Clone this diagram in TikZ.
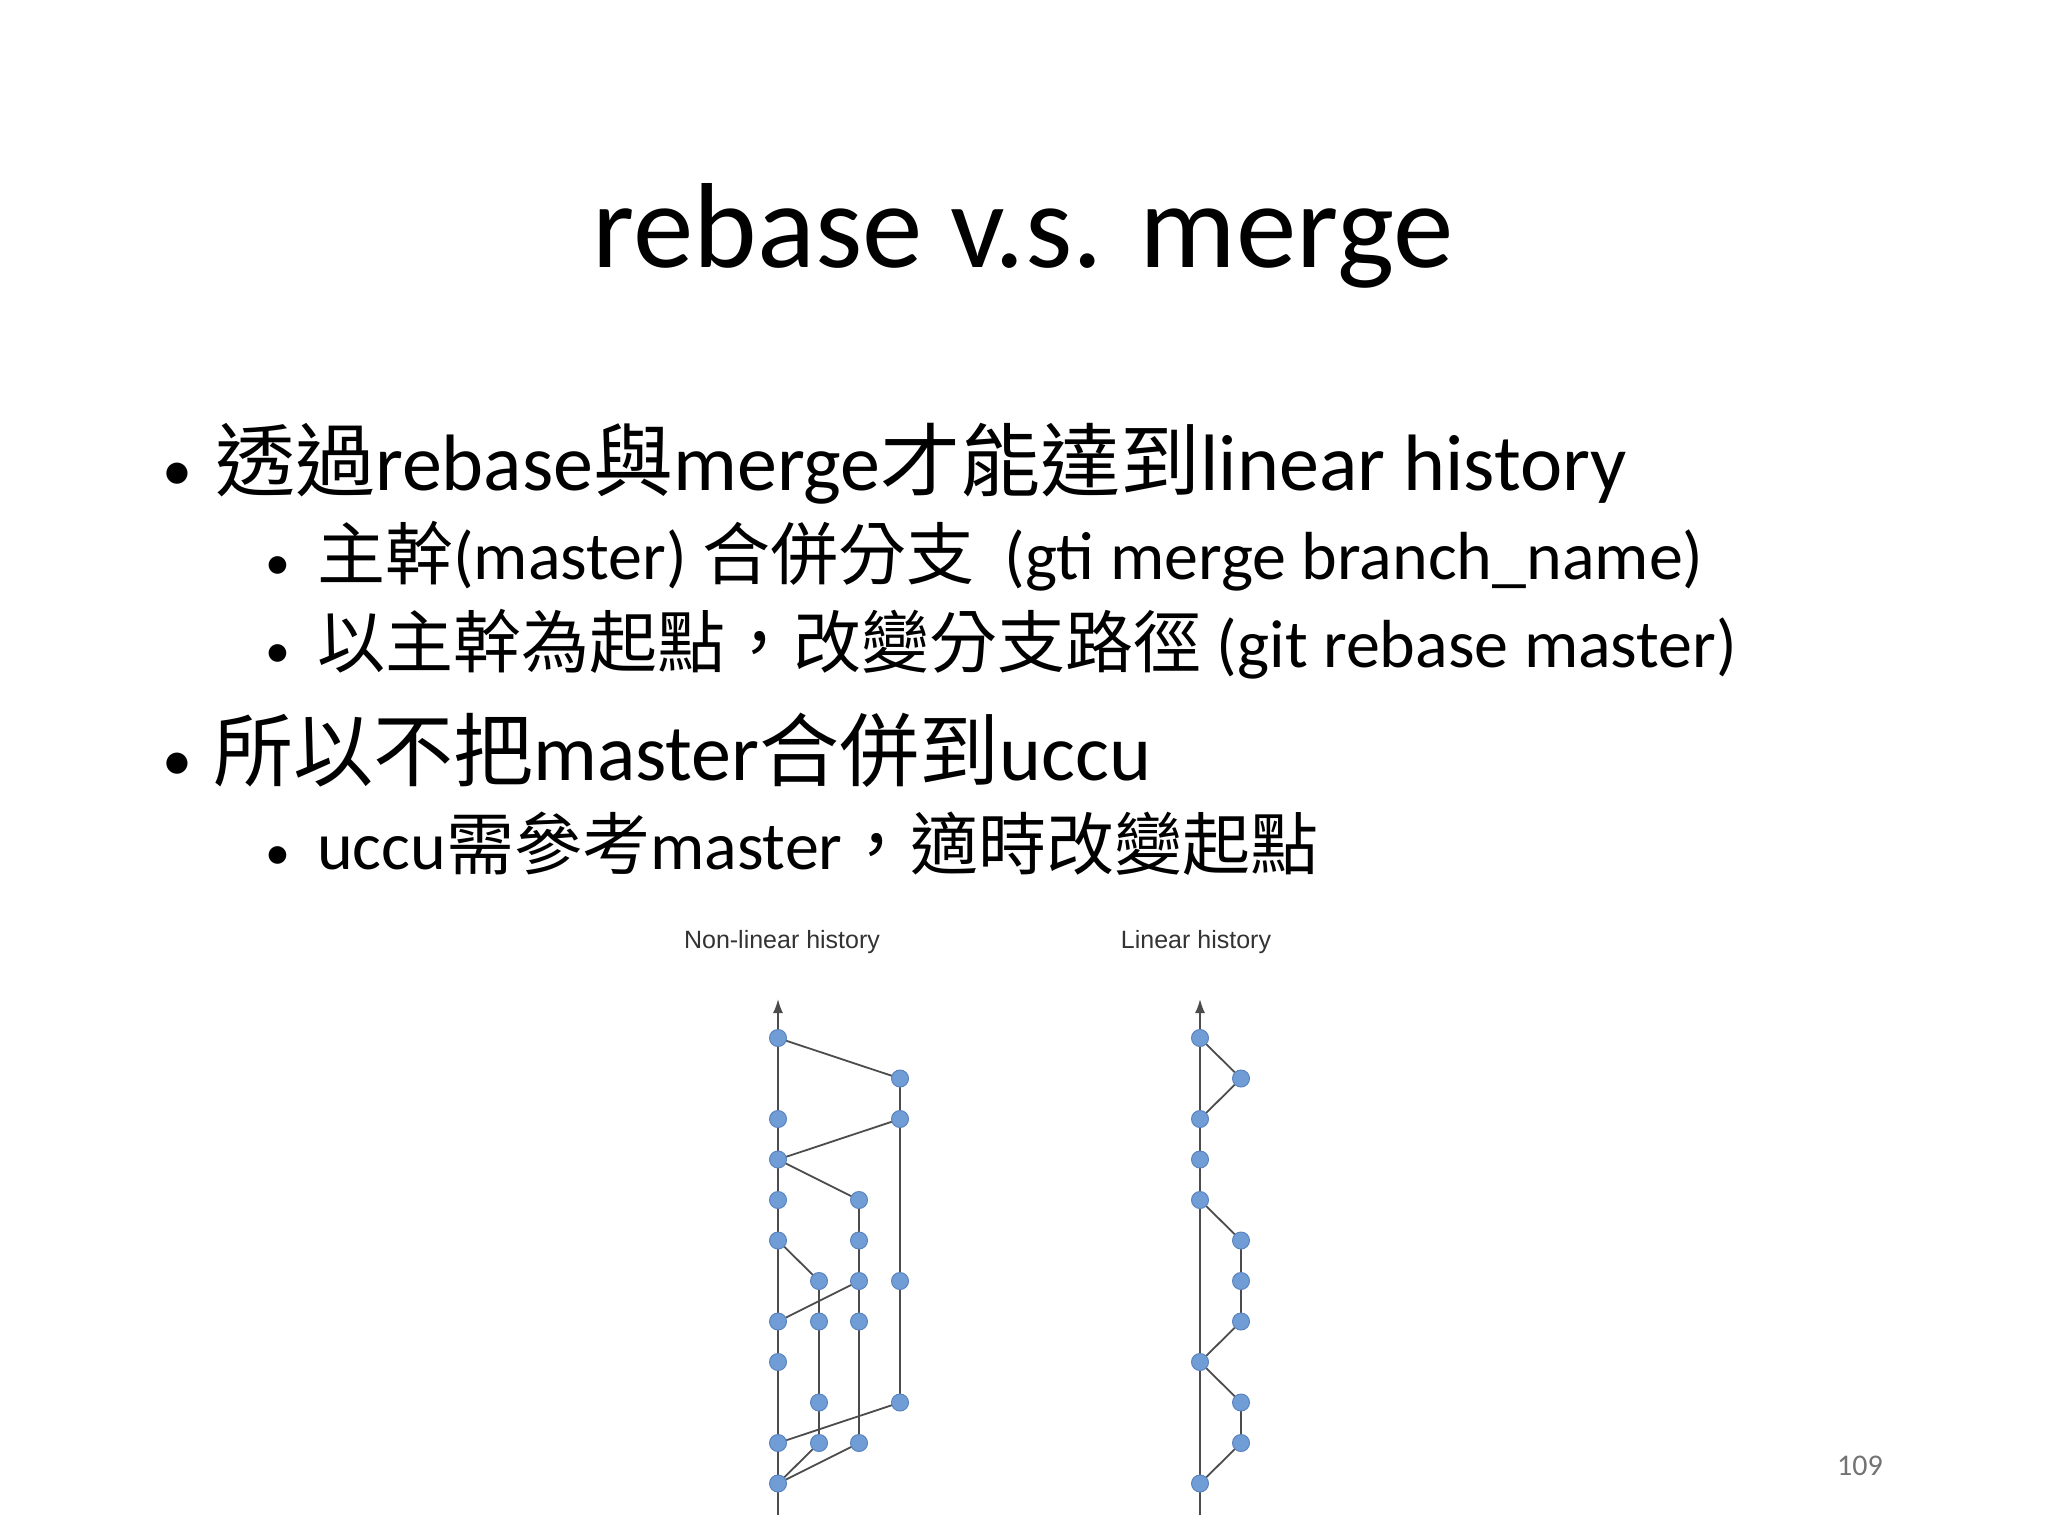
\documentclass[tikz,border=0pt]{standalone}
\usepackage{fontspec}
\usetikzlibrary{arrows.meta}
\setmainfont{Carlito}
\newfontfamily\cjk{Noto Sans CJK TC}
\newfontfamily\arialf{Liberation Sans}
\definecolor{cmblue}{HTML}{719DD6}
\definecolor{cmedge}{HTML}{5A84BE}
\begin{document}
\begin{tikzpicture}[x=1pt,y=-1pt,
  cnode/.style={circle,fill=cmblue,draw=cmedge,line width=1pt,minimum size=17pt,inner sep=0pt},
  ed/.style={draw=black!70,line width=1.8pt},
  lvA/.style={anchor=base west,inner sep=0pt,font=\fontsize{80}{90}\selectfont},
  lvB/.style={anchor=base west,inner sep=0pt,font=\fontsize{68}{76}\selectfont},
  bulA/.style={anchor=base west,inner sep=0pt,font=\fontsize{60}{70}\selectfont},
  bulB/.style={anchor=base west,inner sep=0pt,font=\fontsize{50}{60}\selectfont}]
\useasboundingbox (0,0) rectangle (2048,1536);
\fill[white] (0,0) rectangle (2048,1536);
\node[anchor=base,inner sep=0pt,font=\fontsize{121}{140}\selectfont] (title) at (1023,267) {rebase v.s. merge};
\node[bulA] (u1) at (162,490) {•};
\node[lvA] (b1) at (215,490) {{\cjk 透過}rebase{\cjk 與}merge{\cjk 才能達到}linear history};
\node[bulB] (u2) at (265,579) {•};
\node[lvB] (b2) at (317,579) {{\cjk 主幹}(master) {\cjk 合併分支}~~(gti merge branch\_name)};
\node[bulB] (u3) at (265,667) {•};
\node[lvB] (b3) at (317,667) {{\cjk 以主幹為起點，改變分支路徑} (git rebase master)};
\node[bulA] (u4) at (162,780) {•};
\node[lvA] (b4) at (213,780) {{\cjk 所以不把}master{\cjk 合併到}uccu};
\node[bulB] (u5) at (265,869) {•};
\node[lvB] (b5) at (317,869) {uccu{\cjk 需參考}master{\cjk ，適時改變起點}};
\node[font=\arialf\fontsize{25}{30}\selectfont,text=black!80] (t1) at (782,942) {Non-linear history};
\node[font=\arialf\fontsize{25}{30}\selectfont,text=black!80] (t2) at (1196,942) {Linear history};
\node[font=\fontsize{30}{36}\selectfont,text=black!55] (pg) at (1860,1466) {109};
\def\ya{1038}\def\yb{1078.5}\def\yc{1119}\def\yd{1159.5}\def\ye{1200}\def\yf{1240.5}
\def\yg{1281}\def\yh{1321.5}\def\yi{1362}\def\yj{1402.5}\def\yk{1443}\def\yl{1483.5}
\coordinate (Ltop) at (778,999);
\coordinate (Lbot) at (778,1515);
\coordinate (Rtop) at (1200,999);
\coordinate (Rbot) at (1200,1515);
\draw[ed,-{Latex[length=14pt,width=10pt]}] (Lbot) -- (Ltop);
\draw[ed,-{Latex[length=14pt,width=10pt]}] (Rbot) -- (Rtop);
% left graph
\foreach \n/\y in {0/\ya,2/\yc,3/\yd,4/\ye,5/\yf,7/\yh,8/\yi,10/\yk,11/\yl}
  \coordinate (a\n) at (778,\y);
\foreach \n/\y in {6/\yg,7/\yh,9/\yj,10/\yk}
  \coordinate (b\n) at (819,\y);
\foreach \n/\y in {4/\ye,5/\yf,6/\yg,7/\yh,10/\yk}
  \coordinate (c\n) at (859,\y);
\foreach \n/\y in {1/\yb,2/\yc,6/\yg,9/\yj}
  \coordinate (d\n) at (900,\y);
\draw[ed] (a0) -- (d1) -- (d2) -- (d6) -- (d9) -- (a10);
\draw[ed] (d2) -- (a3) -- (c4) -- (c5) -- (c6) -- (c7) -- (c10) -- (a11);
\draw[ed] (a5) -- (b6) -- (b7) -- (b9) -- (b10) -- (a11);
\draw[ed] (c6) -- (a7);
\foreach \p in {a0,a2,a3,a4,a5,a7,a8,a10,a11,b6,b7,b9,b10,c4,c5,c6,c7,c10,d1,d2,d6,d9}
  \node[cnode] (n\p) at (\p) {};
% right graph
\foreach \n/\y in {0/\ya,2/\yc,3/\yd,4/\ye,8/\yi,11/\yl}
  \coordinate (p\n) at (1200,\y);
\foreach \n/\y in {1/\yb,5/\yf,6/\yg,7/\yh,9/\yj,10/\yk}
  \coordinate (q\n) at (1241,\y);
\draw[ed] (p0) -- (q1) -- (p2);
\draw[ed] (p4) -- (q5) -- (q6) -- (q7) -- (p8) -- (q9) -- (q10) -- (p11);
\foreach \p in {p0,p2,p3,p4,p8,p11,q1,q5,q6,q7,q9,q10}
  \node[cnode] (n\p) at (\p) {};
\end{tikzpicture}
\end{document}
